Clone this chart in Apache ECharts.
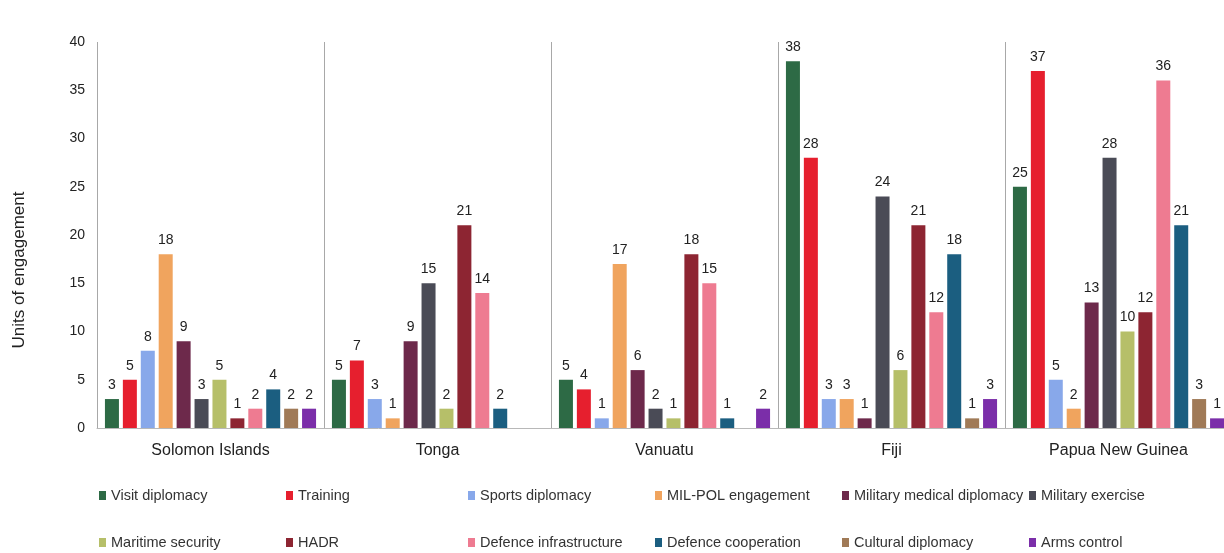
<!DOCTYPE html>
<html>
<head>
<meta charset="utf-8">
<script src="https://cdn.jsdelivr.net/npm/echarts@6/dist/echarts.min.js"></script>
<style>
html,body{margin:0;padding:0;background:#fff;}
#chart{width:1224px;height:553px;}
</style>
</head>
<body>
<div id="chart"></div>
<script>
var categories = ['Solomon Islands', 'Tonga', 'Vanuatu', 'Fiji', 'Papua New Guinea'];
var seriesNames = ['Visit diplomacy', 'Training', 'Sports diplomacy', 'MIL-POL engagement',
  'Military medical diplomacy', 'Military exercise', 'Maritime security', 'HADR',
  'Defence infrastructure', 'Defence cooperation', 'Cultural diplomacy', 'Arms control'];
var visitDiplomacy = [3, 5, 5, 38, 25];
var training = [5, 7, 4, 28, 37];
var sportsDiplomacy = [8, 3, 1, 3, 5];
var milPolEngagement = [18, 1, 17, 3, 2];
var militaryMedicalDiplomacy = [9, 9, 6, 1, 13];
var militaryExercise = [3, 15, 2, 24, 28];
var maritimeSecurity = [5, 2, 1, 6, 10];
var hadr = [1, 21, 18, 21, 12];
var defenceInfrastructure = [2, 14, 15, 12, 36];
var defenceCooperation = [4, 2, 1, 18, 21];
var culturalDiplomacy = [2, null, null, 1, 3];
var armsControl = [2, null, 2, 3, 1];
var yTicks = [0, 5, 10, 15, 20, 25, 30, 35, 40];

var allData = [visitDiplomacy, training, sportsDiplomacy, milPolEngagement,
  militaryMedicalDiplomacy, militaryExercise, maritimeSecurity, hadr,
  defenceInfrastructure, defenceCooperation, culturalDiplomacy, armsControl];
var colors = ['#2d6a45', '#e61f2e', '#88a8ea', '#f0a45e', '#6d294b', '#4a4b56',
  '#b6bf69', '#8d2532', '#ee7b91', '#1b5e80', '#a07a57', '#7b2ea9'];

var series = seriesNames.map(function (n, i) {
  return {
    name: n,
    type: 'bar',
    data: allData[i],
    barWidth: 14,
    barGap: '28%',
    itemStyle: { color: colors[i] },
    label: {
      show: true,
      position: 'top',
      distance: 7,
      color: '#222',
      fontSize: 14,
      fontFamily: 'Liberation Sans'
    }
  };
});

var legendX = [99, 286, 468, 655, 842, 1029];
var legendY = [488, 535];
var legends = seriesNames.map(function (n, i) {
  return {
    data: [n],
    left: legendX[i % 6],
    top: legendY[Math.floor(i / 6)],
    padding: 0,
    itemWidth: 7,
    itemHeight: 9,
    itemGap: 4,
    icon: 'rect',
    selectedMode: false,
    textStyle: { color: '#333', fontSize: 14.5, fontFamily: 'Liberation Sans' }
  };
});

var chart = echarts.init(document.getElementById('chart'));
chart.setOption({
  animation: false,
  backgroundColor: '#fff',
  color: colors,
  legend: legends,
  grid: { left: 97, width: 1135, top: 42, bottom: 125, containLabel: false, outerBoundsMode: 'none' },
  xAxis: {
    type: 'category',
    data: categories,
    axisTick: { show: false },
    axisLine: { lineStyle: { color: '#b8b8b8', width: 1 } },
    splitLine: { show: true, lineStyle: { color: '#a8a8a8', width: 1 } },
    axisLabel: { color: '#222', fontSize: 16, margin: 15, fontFamily: 'Liberation Sans' }
  },
  yAxis: {
    type: 'value',
    min: yTicks[0],
    max: yTicks[yTicks.length - 1],
    interval: yTicks[1] - yTicks[0],
    axisLine: { show: false },
    axisTick: { show: false },
    splitLine: { show: false },
    axisLabel: { color: '#222', fontSize: 14, margin: 12, fontFamily: 'Liberation Sans' }
  },
  graphic: [{
    type: 'text',
    x: 19,
    y: 270,
    rotation: Math.PI / 2,
    style: {
      text: 'Units of engagement',
      fill: '#222',
      fontSize: 17,
      fontFamily: 'Liberation Sans',
      textAlign: 'center',
      textVerticalAlign: 'middle'
    }
  }],
  series: series
});
</script>
</body>
</html>
